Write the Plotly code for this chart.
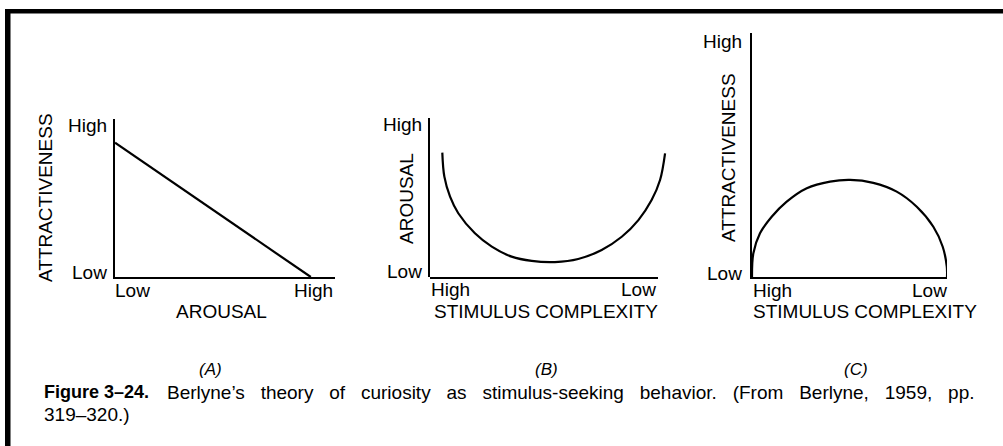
import plotly.graph_objects as go

# ---------------- data (axis units 0..1 = Low..High end of each drawn axis) -------------
level_labels = ["Low", "High"]

# Panel A: attractiveness falls linearly with arousal
a_arousal = [0.0, 0.89]
a_attract = [0.85, 0.0]

# Panel B: arousal vs stimulus complexity (U-shaped curve)
b_complexity = [0.054, 0.063, 0.088, 0.124, 0.197, 0.271, 0.358, 0.446, 0.548,
                0.650, 0.753, 0.841, 0.914, 0.972, 1.009, 1.031]
b_arousal = [0.782, 0.631, 0.505, 0.401, 0.275, 0.191, 0.128, 0.101, 0.094,
             0.113, 0.170, 0.253, 0.358, 0.484, 0.610, 0.778]

# Panel C: attractiveness vs stimulus complexity (inverted U)
c_complexity = [0.0, 0.007, 0.041, 0.101, 0.178, 0.281, 0.400, 0.503, 0.622,
                0.742, 0.845, 0.930, 0.978, 0.999, 1.0]
c_attract = [0.0, 0.097, 0.179, 0.247, 0.309, 0.364, 0.391, 0.398, 0.386,
             0.350, 0.288, 0.206, 0.124, 0.042, 0.0]

axis_names_a = ["AROUSAL", "ATTRACTIVENESS"]
axis_names_b = ["STIMULUS COMPLEXITY", "AROUSAL"]
axis_names_c = ["STIMULUS COMPLEXITY", "ATTRACTIVENESS"]
panel_tags = ["(A)", "(B)", "(C)"]
caption_bold = "Figure 3–24."
caption_rest = "Berlyne’s theory of curiosity as stimulus-seeking behavior. (From Berlyne, 1959, pp."
caption_line2 = "319–320.)"

# ---------------- layout helpers ----------------
W, H = 1003, 446
FONT = "Liberation Sans, Arial, Helvetica, sans-serif"
LABEL = 19


def px(x):
    return x / W


def py(y):
    return 1 - y / H


fig = go.Figure()
curve = dict(color="black", width=2.2)
fig.add_trace(go.Scatter(x=a_arousal, y=a_attract, mode="lines", line=curve,
                         xaxis="x", yaxis="y", hoverinfo="skip"))
fig.add_trace(go.Scatter(x=b_complexity, y=b_arousal, mode="lines",
                         line=dict(curve, shape="spline", smoothing=1.0),
                         xaxis="x2", yaxis="y2", hoverinfo="skip"))
fig.add_trace(go.Scatter(x=c_complexity, y=c_attract, mode="lines",
                         line=dict(curve, shape="spline", smoothing=1.0),
                         xaxis="x3", yaxis="y3", hoverinfo="skip"))

common = dict(showgrid=False, zeroline=False, showticklabels=False, ticks="",
              showline=True, linecolor="black", linewidth=2, fixedrange=True)

fig.update_layout(
    width=W, height=H, margin=dict(l=0, r=0, t=0, b=0),
    showlegend=False, plot_bgcolor="white", paper_bgcolor="white",
    xaxis=dict(domain=[px(115), px(335)], range=[0, 1], anchor="y", **common),
    yaxis=dict(domain=[py(277), py(119)], range=[0, 1], anchor="x", **common),
    xaxis2=dict(domain=[px(430), px(667)], range=[0, 237 / 228], anchor="y2",
                **dict(common, showline=False)),
    yaxis2=dict(domain=[py(277), py(118)], range=[0, 1], anchor="x2", **common),
    xaxis3=dict(domain=[px(752), px(947)], range=[0, 1], anchor="y3", **common),
    yaxis3=dict(domain=[py(277), py(33)], range=[0, 1], anchor="x3", **common),
)

shapes = [
    # page frame (top and left rules)
    dict(type="rect", xref="paper", yref="paper", x0=px(5), x1=1.0, y0=py(13.5), y1=py(9),
         fillcolor="black", line=dict(width=0)),
    dict(type="rect", xref="paper", yref="paper", x0=px(5), x1=px(10.5), y0=0, y1=py(9),
         fillcolor="black", line=dict(width=0)),
    # x axis of panel B (shorter than the curve)
    dict(type="line", xref="x2", yref="y2 domain", x0=0, x1=1, y0=-0.006, y1=-0.006,
         line=dict(color="black", width=2)),
]

annotations = []


def ann(text, x, y, xanchor="center", size=LABEL, angle=0, family=FONT):
    annotations.append(dict(text=text, x=px(x), y=py(y), xref="paper", yref="paper",
                            xanchor=xanchor, yanchor="middle", showarrow=False,
                            textangle=angle, font=dict(family=family, size=size, color="black")))


# Panel A
ann(level_labels[1], 109, 126, "right")
ann(level_labels[0], 109, 272, "right")
ann(level_labels[0], 113, 290, "left")
ann(level_labels[1], 335, 290, "right")
ann(axis_names_a[0], 221, 311)
ann(axis_names_a[1], 46, 198, angle=-90)
ann("<i>" + panel_tags[0] + "</i>", 210, 369, size=17)

# Panel B
ann(level_labels[1], 424, 124, "right")
ann(level_labels[0], 424, 271, "right")
ann(axis_names_b[1], 406, 199, angle=-90)
ann(level_labels[1], 429, 289, "left")
ann(level_labels[0], 658, 289, "right")
ann(axis_names_b[0], 546, 311)
ann("<i>" + panel_tags[1] + "</i>", 546, 369, size=17)

# Panel C
ann(level_labels[1], 744, 41, "right")
ann(level_labels[0], 744, 273, "right")
ann(axis_names_c[1], 728, 158, angle=-90)
ann(level_labels[1], 751, 290, "left")
ann(level_labels[0], 949, 290, "right")
ann(axis_names_c[0], 865, 311)
ann("<i>" + panel_tags[2] + "</i>", 856, 369, size=17)

# Caption (first line is justified across the frame width)
ann("<b>" + caption_bold + "</b>", 42, 392, "left", size=18)
ann(caption_rest.replace(" ", " &nbsp;&nbsp;"), 165, 392, "left", size=19)
ann(caption_line2, 42, 414, "left", size=19)

fig.update_layout(shapes=shapes, annotations=annotations)
fig.write_html("out.html", config={"displayModeBar": False},
               post_script="document.body.style.margin='0px';"
                           "document.body.style.overflow='hidden';")
